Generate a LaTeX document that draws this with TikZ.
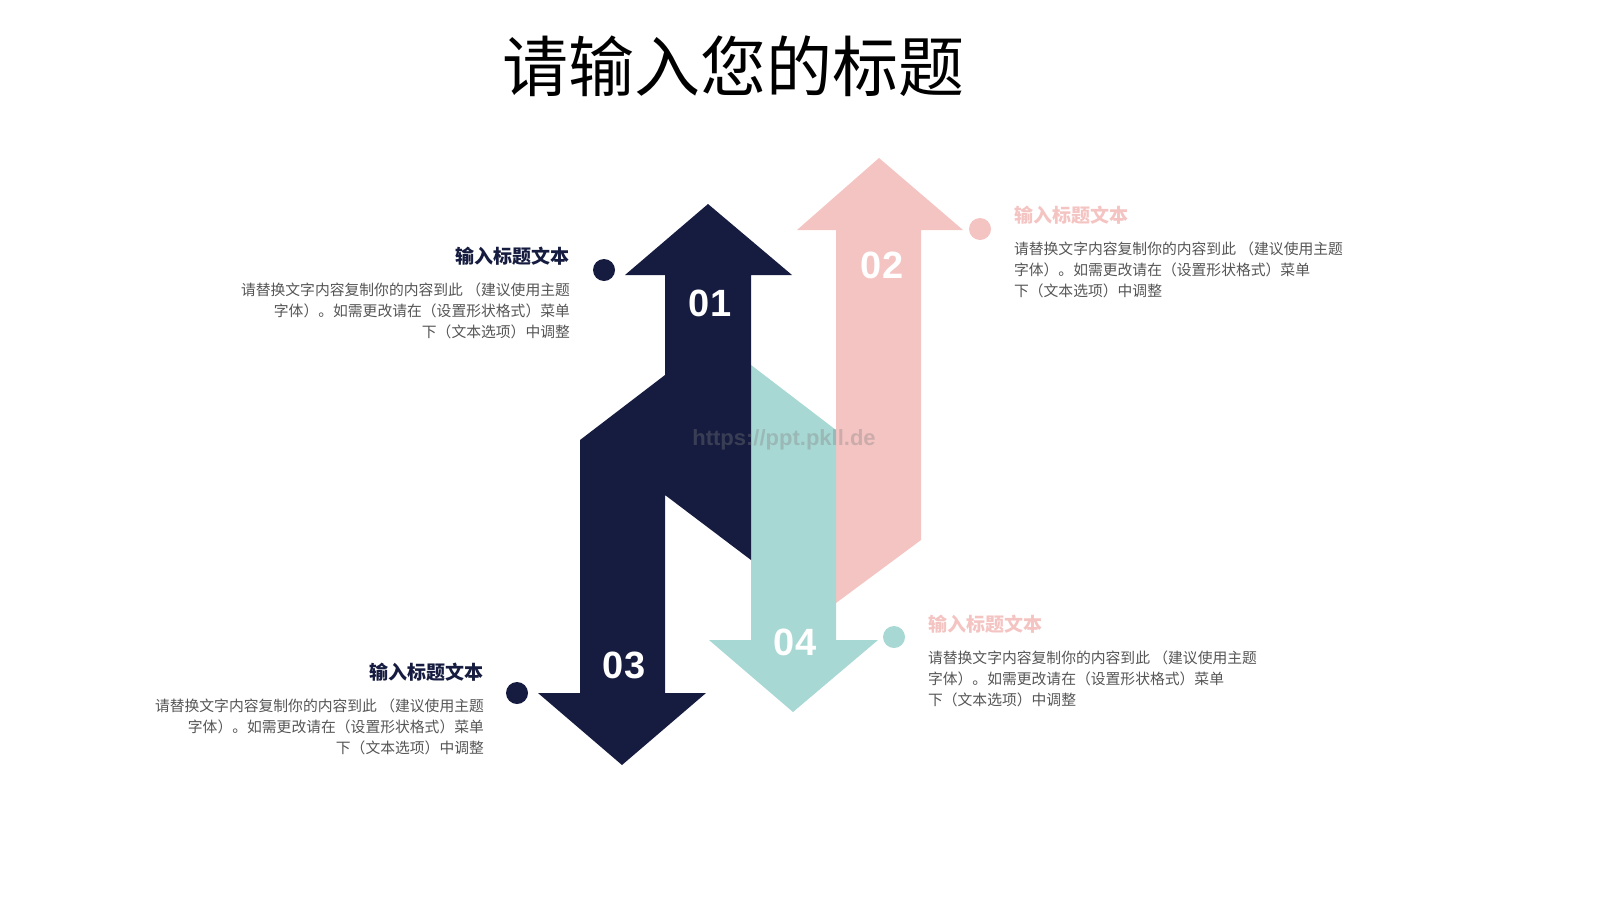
\documentclass[tikz,border=0pt]{standalone}
\usepackage{fontspec}
\setmainfont{Noto Sans CJK SC}
\newfontfamily\numfont{Liberation Sans}
\definecolor{navy}{HTML}{161C3F}
\definecolor{rose}{HTML}{F4C4C2}
\definecolor{mint}{HTML}{A8D8D3}
\definecolor{bodygray}{HTML}{555555}
\begin{document}
\begin{tikzpicture}[x=0.5pt,y=-0.5pt,
    num/.style={text=white, font=\numfont\bfseries\fontsize{19}{19}\selectfont},
    head/.style={font=\bfseries\fontsize{9.5}{11}\selectfont},
    body/.style={text=bodygray, font=\fontsize{7.4}{10.5}\selectfont, align=left},
    dot/.style={circle, inner sep=0pt, minimum size=11pt},
  ]
  \useasboundingbox (0,0) rectangle (1600,900);
  % title
  \node (title) at (733,66) {\fontsize{33}{38}\selectfont 请输入您的标题};
  % arrows
  \fill[rose] (879,158) -- (963,230) -- (921,230) -- (921,540) -- (836,603) -- (836,230) -- (797,230) -- cycle;
  \fill[mint] (751,365) -- (836,430) -- (836,640) -- (878,640) -- (793,712) -- (709,640) -- (751,640) -- cycle;
  \fill[navy] (708,204) -- (792,275) -- (751,275) -- (751,560) -- (665,495) -- (665,693) -- (706,693)
    -- (622,765) -- (538,693) -- (580,693) -- (580,440) -- (665,375) -- (665,275) -- (625,275) -- cycle;
  \node[num] (n1) at (710,303) {01};
  \node[num] (n2) at (882,265) {02};
  \node[num] (n3) at (624,665) {03};
  \node[num] (n4) at (795,642) {04};
  \node[text=gray, opacity=0.35, font=\numfont\bfseries\fontsize{11}{11}\selectfont] (wm) at (784,440) {https://ppt.pkll.de};
  % dots
  \node[dot, fill=navy] (d1) at (604,270) {};
  \node[dot, fill=rose] (d2) at (980,229) {};
  \node[dot, fill=mint] (d4) at (894,637) {};
  \node[dot, fill=navy] (d3) at (517,693) {};
  % texts
  \node[head, text=navy, anchor=east] (h1) at (577,256) {输入标题文本};
  \node[body, align=right, anchor=north east] (b1) at (577,276) {请替换文字内容复制你的内容到此 （建议使用主题\\字体）。如需更改请在（设置形状格式）菜单\\下（文本选项）中调整};
  \node[head, text=rose, anchor=west] (h2) at (1007,215) {输入标题文本};
  \node[body, anchor=north west] (b2) at (1007,235) {请替换文字内容复制你的内容到此 （建议使用主题\\字体）。如需更改请在（设置形状格式）菜单\\下（文本选项）中调整};
  \node[head, text=rose, anchor=west] (h4) at (921,624) {输入标题文本};
  \node[body, anchor=north west] (b4) at (921,644) {请替换文字内容复制你的内容到此 （建议使用主题\\字体）。如需更改请在（设置形状格式）菜单\\下（文本选项）中调整};
  \node[head, text=navy, anchor=east] (h3) at (491,672) {输入标题文本};
  \node[body, align=right, anchor=north east] (b3) at (491,692) {请替换文字内容复制你的内容到此 （建议使用主题\\字体）。如需更改请在（设置形状格式）菜单\\下（文本选项）中调整};
\end{tikzpicture}
\end{document}
